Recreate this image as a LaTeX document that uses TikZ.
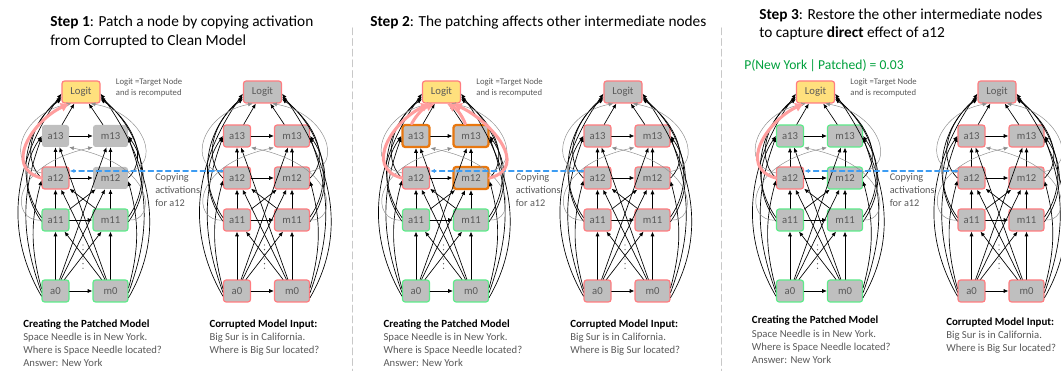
\documentclass[tikz,border=0pt]{standalone}
\usepackage{fontspec}
\setmainfont{Carlito}
\usetikzlibrary{arrows.meta}
\definecolor{boxgray}{HTML}{BFBFBF}
\definecolor{txtgray}{HTML}{595959}
\definecolor{okgreen}{HTML}{5EEB8A}
\definecolor{badred}{HTML}{FF7C80}
\definecolor{hotorange}{HTML}{E8770F}
\definecolor{logityel}{HTML}{FFE07D}
\definecolor{salmon}{HTML}{FF9E9E}
\definecolor{copyblue}{HTML}{3D9CF2}
\definecolor{sepgray}{HTML}{C8C8C8}
\definecolor{probgreen}{HTML}{00A03C}

\tikzset{
  box/.style={rectangle,rounded corners=2pt,fill=boxgray,text=txtgray,
              minimum height=16.5pt,inner sep=0pt,font=\fontsize{8}{9}\selectfont},
  abox/.style={box,minimum width=20.25pt},
  mbox/.style={box,minimum width=26.25pt},
  lbox/.style={box,minimum width=28.5pt},
  noframe/.style={},
  okframe/.style={draw=okgreen,line width=0.9pt},
  badframe/.style={draw=badred,line width=0.9pt},
  hotframe/.style={draw=hotorange,line width=1.7pt},
  target/.style={badframe,fill=logityel},
  link/.style={->,black,line width=0.5pt},
  faint/.style={->,black!45,line width=0.35pt},
  dotline/.style={txtgray,line width=1pt,dash pattern=on 0pt off 3.5pt},
  hotpath/.style={-{Latex[length=6.5pt,width=7.5pt]},salmon,line width=2.3pt},
  copyarrow/.style={->,copyblue,line width=0.8pt,dash pattern=on 4pt off 2.5pt},
  divider/.style={sepgray,line width=1pt,dash pattern=on 5pt off 3pt},
  title/.style={anchor=north west,inner sep=0pt,align=left,
                font=\fontsize{11.5}{13.7}\selectfont},
  note/.style={anchor=north west,inner sep=0pt,align=left,text=txtgray,
               font=\fontsize{6.5}{8.25}\selectfont},
  copytext/.style={anchor=north west,inner sep=0pt,align=left,text=txtgray,
                   font=\fontsize{7.7}{10}\selectfont},
  prompt/.style={anchor=north west,inner sep=0pt,align=left,text=txtgray,
                 font=\fontsize{8}{9.8}\selectfont},
}

% one model: #1 name, #2 x of the a column, frames of the lower nodes,
% of a12, of the upper nodes and of the logit
\newcommand\drawmodel[6]{%
  \begin{scope}[shift={(#2,0)}]
    \node[lbox,#6] (#1-lg)  at (25.5,279) {Logit};
    \node[abox,#5] (#1-a13) at (0,235)    {a13};
    \node[mbox,#5] (#1-m13) at (55,235)   {m13};
    \node[abox,#4] (#1-a12) at (0,193)    {a12};
    \node[mbox,#5] (#1-m12) at (55,193)   {m12};
    \node[abox,#3] (#1-a11) at (0,151)    {a11};
    \node[mbox,#3] (#1-m11) at (55,151)   {m11};
    \node[abox,#3] (#1-a0)  at (0,80)     {a0};
    \node[mbox,#3] (#1-m0)  at (55,80)    {m0};
    \draw[dotline] (27.5,126) -- (27.5,99);
    \foreach \src/\dst in {a0/m0,a11/m11,a12/m12,a13/m13,a0/a11,a11/a12,a12/a13,
                           m0/m11,m11/m12,m12/m13,a13/lg,m13/lg,a0/m11,m0/a11,
                           a11/m12,m11/a12,a0/m12,m0/a12,a0/m13,m0/a13}
      \draw[link] (#1-\src) -- (#1-\dst);
    \foreach \src/\sa/\dst/\da/\ao/\ai in {a0/200/lg/185/120/235,a0/185/a13/185/110/250,
                           a0/170/a12/190/105/255,a11/185/a13/180/125/235,
                           a11/170/lg/195/125/220,a12/180/lg/200/135/215,
                           m0/340/lg/355/60/-55,m0/355/m13/355/70/-70,
                           m0/10/m12/350/75/-75,m11/355/m13/0/55/-55,
                           m11/10/lg/345/55/-40,m12/0/lg/340/45/-35}
      \draw[link] (#1-\src.\sa) to[out=\ao,in=\ai] (#1-\dst.\da);
    \draw[faint] (#1-a11.west) .. controls (-45,148) and (-48,205) .. (#1-m13.south west);
    \draw[faint] (#1-m11.east) .. controls (100,148) and (103,205) .. (#1-a13.south east);
    \draw[faint] (#1-a12.160) .. controls (-52,205) and (-35,258) .. (#1-lg.230);
    \draw[faint] (#1-m12.20) .. controls (107,205) and (90,258) .. (#1-lg.310);
  \end{scope}}

\begin{document}
\begin{tikzpicture}[x=0.75pt,y=0.75pt,>={Latex[length=3.5pt,width=3pt]},line cap=round]
  \useasboundingbox (0,0) rectangle (1061,371);
  \clip (0,0) rectangle (1061,371);

  \draw[divider] (352.5,343) -- (352.5,0);
  \draw[divider] (721.5,343) -- (721.5,0);

  \drawmodel{cln1}{55.5}{okframe}{badframe}{noframe}{target}
  \drawmodel{cor1}{237}{badframe}{badframe}{badframe}{badframe}
  \drawmodel{cln2}{416}{okframe}{badframe}{hotframe}{target}
  \drawmodel{cor2}{597.5}{badframe}{badframe}{badframe}{badframe}
  \drawmodel{cln3}{790}{okframe}{badframe}{okframe}{target}
  \drawmodel{cor3}{971.5}{badframe}{badframe}{badframe}{badframe}

  \foreach \n/\x in {1/55.5,2/416,3/790}{
    \draw[copyarrow] ([yshift=5.25pt]cor\n-a12.west) -- ([yshift=5.25pt]cln\n-a12.east);
    \draw[hotpath] (cln\n-a12.west) to[out=165,in=205,looseness=1.3] (cln\n-lg.225);
    \node[note] (note\n) at (\x+60.2,292.4) {Logit =Target Node\\and is recomputed};
    \node[copytext] (copy\n) at (\x+99.5,198) {Copying\\activations\\for a12};
  }
  \draw[hotpath] (cln2-m12.east) to[out=15,in=-25,looseness=1.3] (cln2-lg.315);
  \draw[hotpath] (cln2-a13.110) to[bend left=20] (cln2-lg.240);
  \draw[hotpath] (cln2-m13.115) to[bend right=20] (cln2-lg.295);

  \node[title] (step1) at (50,355)
    {\textbf{Step 1}: Patch a node by copying activation\\from Corrupted to Clean Model};
  \node[title] (step2) at (370,355.7)
    {\textbf{Step 2}: The patching affects other intermediate nodes};
  \node[title] (step3) at (759,362.4)
    {\textbf{Step 3}: Restore the other intermediate nodes\\to capture \textbf{direct} effect of a12};
  \node[anchor=north west,inner sep=0pt,text=probgreen,font=\fontsize{10.2}{12}\selectfont]
    (prob) at (744,312.2) {P(New York\,|\,Patched) = 0.03};

  \foreach \n/\x/\y in {1/23/51.7,2/383.3/51.7,3/751.7/55}
    \node[prompt] (clean\n) at (\x,\y)
      {{\color{black}\fontsize{8.2}{9.8}\selectfont\bfseries Creating the Patched Model}\\
       Space Needle is in New York.\\Where is Space Needle located?\\Answer: New York};
  \foreach \n/\x/\y in {1/209.3/51.7,2/570/51.7,3/946/53.7}
    \node[prompt] (corr\n) at (\x,\y)
      {{\color{black}\fontsize{8.2}{9.8}\selectfont\bfseries Corrupted Model Input:}\\
       Big Sur is in California.\\Where is Big Sur located?};
\end{tikzpicture}
\end{document}
